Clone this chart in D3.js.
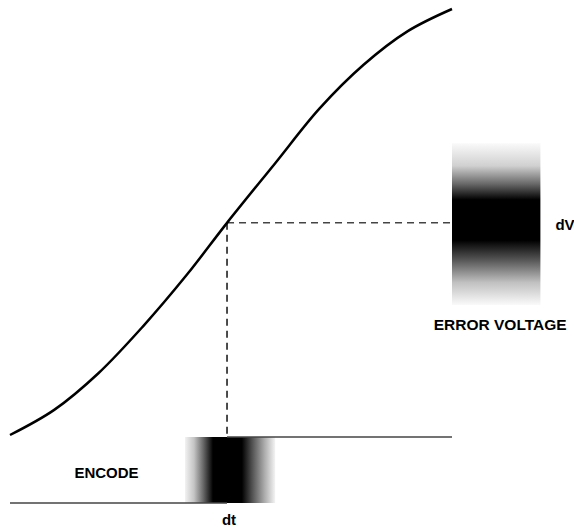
<!DOCTYPE html>
<html>
<head>
<meta charset="utf-8">
<script src="https://cdn.jsdelivr.net/npm/d3@7"></script>
<style>
	body { margin:0; background:#fff; }
	svg text { font-family: "Liberation Sans", Arial, sans-serif; font-weight:bold; fill:#000; }
</style>
</head>
<body>
<div id="container"></div>
<script>

// transfer curve (time units 0-100, voltage units 0-100)
var curveT = [0, 10, 20, 30, 40, 49.1, 60, 70, 80, 90, 100];
var curveV = [0, 5.9, 14.5, 25.4, 37.6, 49.8, 63.8, 76.6, 86.9, 94.8, 100];

// encode step and its timing blur
var stepTime = 49.1;
var stepLevels = [0, 1];
var timeBlur = [39.6, 60];

// error voltage band
var crossV = 49.8;
var errorBandT = [100, 120];
var errorBandV = [30.5, 68.5];

var labels = ["ENCODE", "dt", "dV", "ERROR VOLTAGE"];

function render() {
	var width = 574, height = 531;

	var svg = d3.select("#container")
		.append('svg')
		.attr('width', width)
		.attr('height', height);

	var x = d3.scaleLinear().domain([0, 100]).range([10, 452]);
	var y = d3.scaleLinear().domain([0, 100]).range([435, 9]);
	var lvl = d3.scaleLinear().domain([0, 1]).range([503, 437]);

	var defs = svg.append('defs');

	// horizontal blur for the encode edge
	var gh = defs.append('linearGradient')
		.attr('id', 'blurH')
		.attr('x1', '0%').attr('x2', '100%')
		.attr('y1', '0%').attr('y2', '0%');
	[[0,'#f2f2f2'],[10,'#c4c4c4'],[20,'#6a6a6a'],[31,'#000'],[63,'#000'],[75,'#555'],[88,'#ababab'],[100,'#f4f4f4']]
		.forEach(s => gh.append('stop').attr('offset', s[0] + '%').attr('stop-color', s[1]));

	// vertical blur for the error voltage
	var gv = defs.append('linearGradient')
		.attr('id', 'blurV')
		.attr('x1', '0%').attr('x2', '0%')
		.attr('y1', '0%').attr('y2', '100%');
	[[0,'#fafafa'],[14,'#d0d0d0'],[25,'#6a6a6a'],[35,'#000'],[60,'#000'],[72,'#555'],[86,'#c0c0c0'],[100,'#fafafa']]
		.forEach(s => gv.append('stop').attr('offset', s[0] + '%').attr('stop-color', s[1]));

	// blurred boxes
	svg.append('rect')
		.attr('x', x(timeBlur[0]))
		.attr('y', lvl(1))
		.attr('width', x(timeBlur[1]) - x(timeBlur[0]))
		.attr('height', lvl(0) - lvl(1))
		.attr('fill', 'url(#blurH)');

	svg.append('rect')
		.attr('x', x(errorBandT[0]))
		.attr('y', y(errorBandV[1]))
		.attr('width', x(errorBandT[1]) - x(errorBandT[0]))
		.attr('height', y(errorBandV[0]) - y(errorBandV[1]))
		.attr('fill', 'url(#blurV)');

	// step signal
	svg.append('line')
		.attr('x1', x(0)).attr('x2', x(stepTime))
		.attr('y1', lvl(stepLevels[0])).attr('y2', lvl(stepLevels[0]))
		.attr('stroke', '#444').attr('stroke-width', 1.6);
	svg.append('line')
		.attr('x1', x(stepTime)).attr('x2', x(100))
		.attr('y1', lvl(stepLevels[1])).attr('y2', lvl(stepLevels[1]))
		.attr('stroke', '#444').attr('stroke-width', 1.6);

	// dashed guides
	svg.append('line')
		.attr('x1', x(stepTime)).attr('x2', x(errorBandT[0]))
		.attr('y1', y(crossV)).attr('y2', y(crossV))
		.attr('stroke', '#444').attr('stroke-width', 1.5)
		.attr('stroke-dasharray', '7,5');
	svg.append('line')
		.attr('x1', x(stepTime)).attr('x2', x(stepTime))
		.attr('y1', y(crossV)).attr('y2', lvl(1))
		.attr('stroke', '#111').attr('stroke-width', 1.5)
		.attr('stroke-dasharray', '7,5');

	// transfer curve
	var pts = curveT.map((t, i) => [t, curveV[i]]);
	var line = d3.line()
		.x(d => x(d[0]))
		.y(d => y(d[1]))
		.curve(d3.curveCatmullRom.alpha(0.5));

	svg.append('path')
		.datum(pts)
		.attr('d', line)
		.attr('fill', 'none')
		.attr('stroke', '#000')
		.attr('stroke-width', 2.5);

	// labels
	svg.append('text')
		.attr('x', (x(0) + x(stepTime)) / 2 - 12)
		.attr('y', (lvl(0) + lvl(1)) / 2 + 8)
		.attr('text-anchor', 'middle')
		.attr('font-size', 15)
		.text(labels[0]);

	svg.append('text')
		.attr('x', x(stepTime) + 2)
		.attr('y', lvl(0) + 22)
		.attr('text-anchor', 'middle')
		.attr('font-size', 15)
		.text(labels[1]);

	svg.append('text')
		.attr('x', x(errorBandT[1]) + 15)
		.attr('y', y(crossV) + 7)
		.attr('font-size', 15)
		.text(labels[2]);

	svg.append('text')
		.attr('x', (x(errorBandT[0]) + x(errorBandT[1])) / 2 + 4)
		.attr('y', y(errorBandV[0]) + 25)
		.attr('text-anchor', 'middle')
		.attr('font-size', 15.5)
		.text(labels[3]);
}

render();
</script>
</body>
</html>
